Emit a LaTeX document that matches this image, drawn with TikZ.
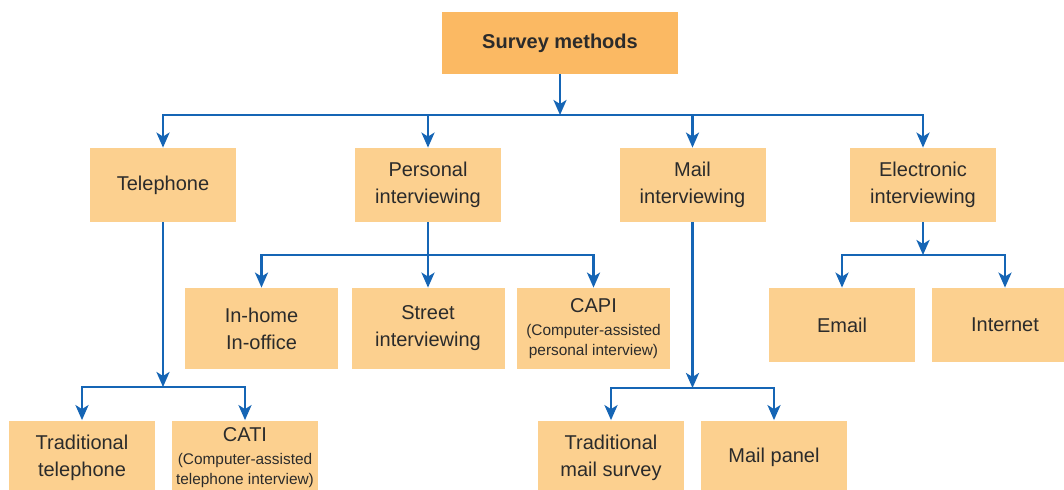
\documentclass[tikz,border=0pt]{standalone}
\usepackage{fontspec}
\setmainfont{Liberation Sans}
\usetikzlibrary{arrows.meta}
\definecolor{boxc}{HTML}{FCD08F}
\definecolor{topc}{HTML}{FBB963}
\definecolor{linec}{HTML}{1565B5}
\definecolor{txt}{HTML}{2B2B2B}
\tikzset{
  box/.style={fill=boxc, minimum width=73pt, minimum height=37pt, inner sep=0pt,
    align=center, text=txt, font=\fontsize{10}{13.5}\selectfont},
  wbox/.style={box, minimum width=76.5pt, minimum height=40.5pt},
  topbox/.style={box, fill=topc, minimum width=118pt, minimum height=31pt,
    font=\fontsize{10}{13}\selectfont\bfseries},
  arr/.style={draw=linec, line width=1.3pt,
    -{Stealth[length=7.5pt,width=6.5pt,inset=2pt]}},
}
\newcommand{\smalltxt}[1]{{\fontsize{7.7}{9}\selectfont #1}}
\begin{document}
\begin{tikzpicture}[x=0.5pt,y=-0.5pt]
\useasboundingbox (0,0) rectangle (1064,489);
\clip (0,0) rectangle (1064,489);
\fill[white] (0,0) rectangle (1064,489);
% nodes
\node[topbox] (sm) at (560,43) {Survey methods};
\node[box] (tel) at (163,185) {Telephone};
\node[box] (pers) at (428,185) {Personal\\interviewing};
\node[box] (mail) at (692.5,185) {Mail\\interviewing};
\node[box] (elec) at (923,185) {Electronic\\interviewing};
\node[wbox] (inhome) at (261.5,328.5) {In-home\\In-office};
\node[wbox] (street) at (428,328.5) {Street\\interviewing};
\node[wbox] (capi) at (593.5,328.5) {CAPI\\[-2pt]\smalltxt{(Computer-assisted}\\[-3.5pt]\smalltxt{personal interview)}};
\node[box] (email) at (842,325) {Email};
\node[box] (internet) at (1005,325) {Internet};
\node[box] (tradtel) at (82,457.5) {Traditional\\telephone};
\node[box] (cati) at (245,457.5) {CATI\\[-2pt]\smalltxt{(Computer-assisted}\\[-3.5pt]\smalltxt{telephone interview)}};
\node[box] (tradmail) at (611,457.5) {Traditional\\mail survey};
\node[box] (panel) at (774,457.5) {Mail panel};
% junctions
\coordinate (b1) at (560,115);
\coordinate (b2) at (428,255);
\coordinate (b3) at (923,255);
\coordinate (b4) at (163,387);
\coordinate (b5) at (692.5,388);
% connectors
\draw[arr] (sm) -- (b1);
\draw[arr] (b1) -| (tel);
\draw[arr] (b1) -| (pers);
\draw[arr] (b1) -| (mail);
\draw[arr] (b1) -| (elec);
\draw[arr] (pers) -- (street);
\draw[arr] (b2) -| (inhome);
\draw[arr] (b2) -| (capi);
\draw[arr] (elec) -- (b3);
\draw[arr] (b3) -| (email);
\draw[arr] (b3) -| (internet);
\draw[arr] (tel) -- (b4);
\draw[arr] (b4) -| (tradtel);
\draw[arr] (b4) -| (cati);
\draw[arr] (mail) -- (b5);
\draw[arr] (b5) -| (tradmail);
\draw[arr] (b5) -| (panel);
\end{tikzpicture}
\end{document}
